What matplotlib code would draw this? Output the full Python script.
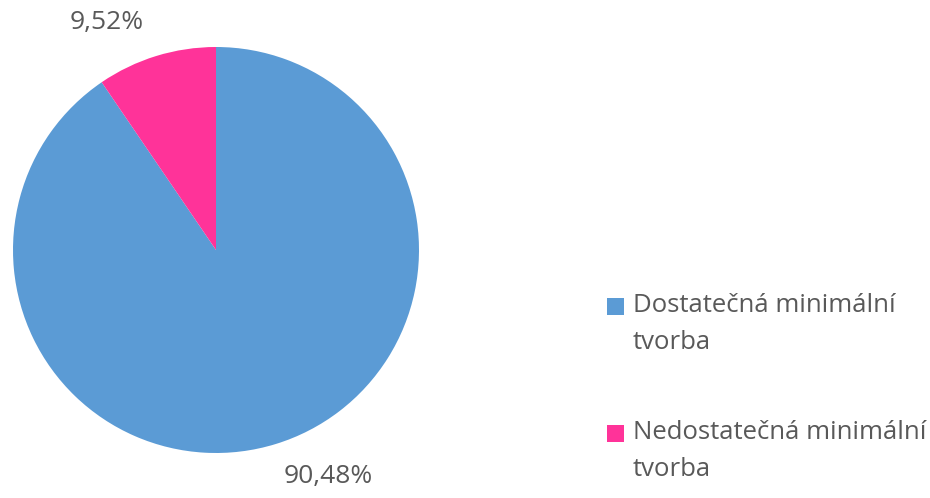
import matplotlib.pyplot as plt
from matplotlib.patches import Rectangle

plt.rcParams['font.family'] = ['Open Sans', 'DejaVu Sans']

categories = ["Dostatečná minimální\ntvorba", "Nedostatečná minimální\ntvorba"]
values = [90.48, 9.52]
value_labels = ["90,48%", "9,52%"]
colors = ["#5B9BD5", "#FF3399"]
text_color = "#595959"

W, H = 930, 498
fig = plt.figure(figsize=(W / 100, H / 100), dpi=100)
# pie centred at (216, 250) px with radius 203 px
cx, cy, r = 216, 250, 203
ax = fig.add_axes([(cx - r) / W, (H - cy - r) / H, 2 * r / W, 2 * r / H])

wedges, _ = ax.pie(values, colors=colors, startangle=90, counterclock=False,
                   radius=1, wedgeprops=dict(linewidth=0))
ax.set_xlim(-1, 1)
ax.set_ylim(-1, 1)
ax.set_aspect('equal')
ax.axis('off')

# wedge order: big slice clockwise from top, then small one
label_pos = [((328 - cx) / r, (cy - 476) / r), ((107 - cx) / r, (cy - 23) / r)]
for lab, (x, y) in zip(value_labels, label_pos):
    ax.text(x, y, lab, ha='center', va='center', fontsize=19, color=text_color,
            clip_on=False)

# legend drawn by hand so the square sits beside the first line
entry_top = [298, 425]  # pixel y of square tops
for lab, col, top in zip(categories, colors, entry_top):
    fig.patches.append(Rectangle((607 / W, 1 - (top + 17) / H), 17 / W, 17 / H,
                                 transform=fig.transFigure, facecolor=col,
                                 edgecolor='none'))
    fig.text(633 / W, 1 - (top - 5) / H, lab, ha='left', va='top',
             fontsize=18.5, color=text_color, linespacing=1.65)

fig.savefig("out.png", dpi=100)
